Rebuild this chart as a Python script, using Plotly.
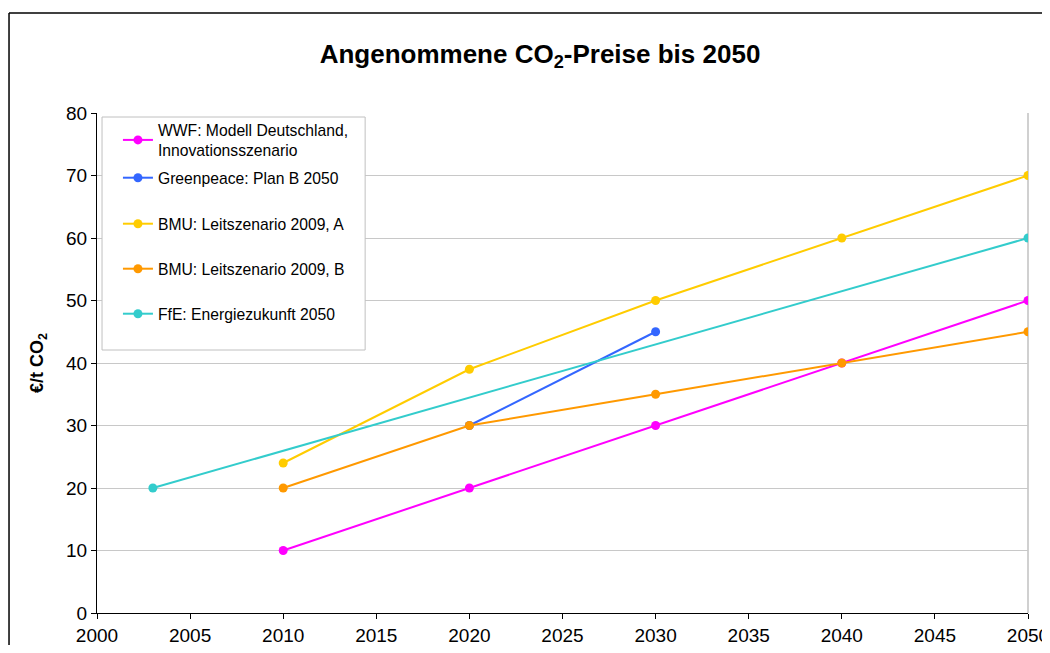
import plotly.graph_objects as go

# === Daten ===
wwf_jahre = [2010, 2020, 2030, 2040, 2050]
wwf_preise = [10, 20, 30, 40, 50]

gp_jahre = [2020, 2030]
gp_preise = [30, 45]

bmu_a_jahre = [2010, 2020, 2030, 2040, 2050]
bmu_a_preise = [24, 39, 50, 60, 70]

bmu_b_jahre = [2010, 2020, 2030, 2040, 2050]
bmu_b_preise = [20, 30, 35, 40, 45]

ffe_jahre = [2003, 2050]
ffe_preise = [20, 60]

reihen = [
    ("WWF: Modell Deutschland,<br>Innovationsszenario", wwf_jahre, wwf_preise, "#FF00FF"),
    ("Greenpeace: Plan B 2050", gp_jahre, gp_preise, "#3366FF"),
    ("BMU: Leitszenario 2009, A", bmu_a_jahre, bmu_a_preise, "#FFCC00"),
    ("BMU: Leitszenario 2009, B", bmu_b_jahre, bmu_b_preise, "#FF9900"),
    ("FfE: Energiezukunft 2050", ffe_jahre, ffe_preise, "#33CCCC"),
]

# vertikale Mitte jedes Legendeneintrags (Papierkoordinaten)
legenden_y = [0.946, 0.87, 0.778, 0.688, 0.598]

fig = go.Figure()

legenden = {}
for i, (name, x, y, farbe) in enumerate(reihen):
    lname = "legend" if i == 0 else f"legend{i + 1}"
    fig.add_trace(
        go.Scatter(
            x=x,
            y=y,
            mode="lines+markers",
            name=name,
            legend=lname,
            line=dict(color=farbe, width=2),
            marker=dict(size=9, color=farbe),
        )
    )
    legenden[lname] = dict(
        x=0.0225,
        y=legenden_y[i],
        xanchor="left",
        yanchor="middle",
        bgcolor="rgba(0,0,0,0)",
        borderwidth=0,
        font=dict(size=15.7),
        itemwidth=30,
    )

# === Layout ===
# Seite hat 8px Rand; Figur reicht bis an den rechten Fensterrand
fig.update_layout(
    width=1042,
    height=637,
    paper_bgcolor="white",
    plot_bgcolor="white",
    font=dict(family="Liberation Sans, Arial, sans-serif", size=19, color="black"),
    margin=dict(l=89, r=22, t=105, b=32),
    title=dict(
        text="<b>Angenommene CO<sub>2</sub>-Preise bis 2050</b>",
        font=dict(size=26),
        x=(540 - 8) / 1042,
        xanchor="center",
        y=0.928,
        yanchor="middle",
    ),
    showlegend=True,
    shapes=[
        # Rahmen um das Diagramm (nur links und oben sichtbar)
        dict(type="line", xref="paper", yref="paper",
             x0=-0.0945, x1=-0.0945, y0=-0.3, y1=1.2,
             line=dict(color="black", width=1.5), layer="below"),
        dict(type="line", xref="paper", yref="paper",
             x0=-0.0945, x1=1.2, y0=1.2, y1=1.2,
             line=dict(color="black", width=1.5), layer="below"),
        # rechte Begrenzung der Zeichenfläche
        dict(type="line", xref="paper", yref="paper",
             x0=1, x1=1, y0=0, y1=1,
             line=dict(color="#C0C0C0", width=1.5), layer="below"),
        # Legendenkasten
        dict(type="rect", xref="paper", yref="paper",
             x0=0.0054, x1=0.288, y0=0.526, y1=0.992,
             fillcolor="white",
             line=dict(color="#C0C0C0", width=1), layer="above"),
    ],
    **legenden,
)

fig.update_xaxes(
    range=[2000, 2050],
    dtick=5,
    tick0=2000,
    showgrid=False,
    showline=True,
    linecolor="black",
    linewidth=1,
    ticks="outside",
    ticklen=5,
    tickcolor="black",
    zeroline=False,
    automargin=False,
    ticklabeloverflow="allow",
)

fig.update_yaxes(
    range=[0, 80],
    dtick=10,
    showgrid=True,
    gridcolor="#C8C8C8",
    gridwidth=1,
    showline=True,
    linecolor="black",
    linewidth=1,
    ticks="outside",
    ticklen=5,
    tickcolor="black",
    zeroline=False,
    automargin=False,
    title=dict(text="<b>€/t CO<sub>2</sub></b>", font=dict(size=18), standoff=17),
)

fig.write_html("out.html")
